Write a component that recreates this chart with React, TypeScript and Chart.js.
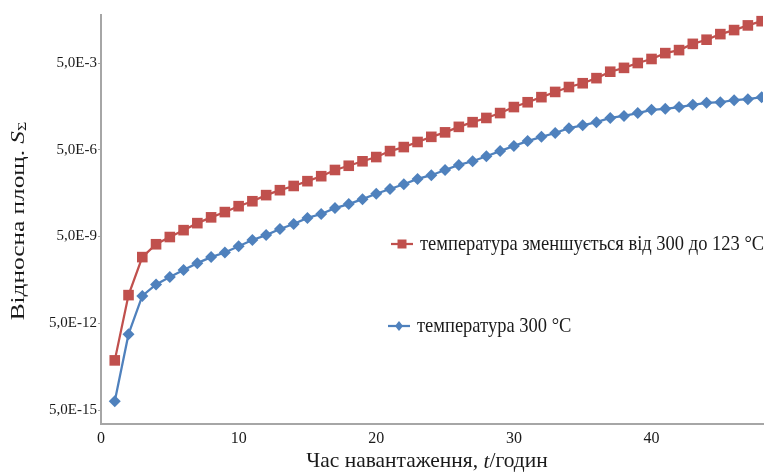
import React, { useEffect, useRef } from "react";
import { Chart, registerables } from "chart.js";

Chart.register(...registerables);

const hours = [
  1, 2, 3, 4, 5, 6, 7, 8, 9, 10, 11, 12, 13, 14, 15, 16, 17, 18, 19, 20, 21, 22, 23, 24,
  25, 26, 27, 28, 29, 30, 31, 32, 33, 34, 35, 36, 37, 38, 39, 40, 41, 42, 43, 44, 45, 46, 47, 48,
];

const decreasingTemp = [
  2.6e-13, 4.7e-11, 9.7e-10, 2.7e-9, 4.8e-9, 8.3e-9, 1.45e-8, 2.3e-8, 3.5e-8, 5.6e-8, 8.3e-8, 1.35e-7,
  2.0e-7, 2.8e-7, 4.1e-7, 6.1e-7, 1.0e-6, 1.4e-6, 2.0e-6, 2.8e-6, 4.5e-6, 6.2e-6, 9.3e-6, 1.4e-5,
  2.0e-5, 3.1e-5, 4.5e-5, 6.3e-5, 9.3e-5, 1.5e-4, 2.2e-4, 3.3e-4, 5.0e-4, 7.4e-4, 1.0e-3, 1.5e-3,
  2.5e-3, 3.4e-3, 5.0e-3, 6.9e-3, 1.1e-2, 1.4e-2, 2.3e-2, 3.2e-2, 5.0e-2, 6.9e-2, 0.1, 0.14,
];

const constTemp = [
  1.0e-14, 2.1e-12, 4.4e-11, 1.1e-10, 2.0e-10, 3.5e-10, 6.0e-10, 9.7e-10, 1.4e-9, 2.3e-9, 3.8e-9, 5.6e-9,
  9.1e-9, 1.35e-8, 2.2e-8, 3.0e-8, 4.8e-8, 6.6e-8, 9.8e-8, 1.5e-7, 2.2e-7, 3.2e-7, 4.9e-7, 6.6e-7,
  1.0e-6, 1.5e-6, 2.0e-6, 3.0e-6, 4.5e-6, 6.8e-6, 1.0e-5, 1.4e-5, 1.9e-5, 2.8e-5, 3.5e-5, 4.5e-5,
  6.3e-5, 7.4e-5, 9.3e-5, 1.2e-4, 1.3e-4, 1.5e-4, 1.8e-4, 2.1e-4, 2.2e-4, 2.6e-4, 2.8e-4, 3.3e-4,
];

const seriesNames = ["температура зменшується від 300 до 123 °C", "температура 300 °C"];

const xTickValues = [0, 10, 20, 30, 40];
const yTickValues = [5e-15, 5e-12, 5e-9, 5e-6, 5e-3];
const yTickLabels = ["5,0E-15", "5,0E-12", "5,0E-9", "5,0E-6", "5,0E-3"];

const RED = "#C0504D";
const BLUE = "#4F81BD";
const SERIF = "'Liberation Serif', 'Times New Roman', serif";
const TEXT = "#1a1a1a";
const AXIS = "#a6a6a6";

function drawParts(
  ctx: CanvasRenderingContext2D,
  parts: [string, string, number, number][],
  cx: number,
  cy: number,
  rot: number,
  stretchAlong: number,
  stretchAcross: number
) {
  ctx.save();
  ctx.translate(cx, cy);
  ctx.rotate(rot);
  ctx.scale(stretchAlong, stretchAcross);
  let total = 0;
  const ws = parts.map(([t, s, f]) => {
    ctx.font = `${s} ${f}px ${SERIF}`;
    const w = ctx.measureText(t).width;
    total += w;
    return w;
  });
  let p = -total / 2;
  ctx.textAlign = "left";
  ctx.textBaseline = "middle";
  parts.forEach(([t, s, f, dy], i) => {
    ctx.font = `${s} ${f}px ${SERIF}`;
    ctx.fillText(t, p, dy);
    p += ws[i];
  });
  ctx.restore();
}

const decorPlugin = {
  id: "decor",
  afterDraw(chart: any) {
    const ctx: CanvasRenderingContext2D = chart.ctx;
    ctx.save();
    ctx.fillStyle = TEXT;

    // X axis title
    drawParts(
      ctx,
      [
        ["Час навантаження, ", "normal", 19, 0],
        ["t", "italic", 19, 0],
        ["/годин", "normal", 19, 0],
      ],
      427,
      462,
      0,
      1.13,
      1.1
    );

    // Y axis title (rotated)
    drawParts(
      ctx,
      [
        ["Відносна площ. ", "normal", 19, 0],
        ["S", "italic", 19, 0],
        ["Σ", "normal", 12, 4],
      ],
      19,
      221,
      -Math.PI / 2,
      1.33,
      1.0
    );

    // Legend
    const items = [
      { name: seriesNames[0], color: RED, y: 244, x0: 391, style: "rect" },
      { name: seriesNames[1], color: BLUE, y: 326, x0: 388, style: "rectRot" },
    ];
    items.forEach((it) => {
      ctx.strokeStyle = it.color;
      ctx.lineWidth = 2.25;
      ctx.beginPath();
      ctx.moveTo(it.x0, it.y);
      ctx.lineTo(it.x0 + 22, it.y);
      ctx.stroke();
      ctx.fillStyle = it.color;
      const cx = it.x0 + 11;
      ctx.beginPath();
      if (it.style === "rect") {
        ctx.rect(cx - 4.5, it.y - 4.5, 9, 9);
      } else {
        ctx.moveTo(cx, it.y - 5);
        ctx.lineTo(cx + 4, it.y);
        ctx.lineTo(cx, it.y + 5);
        ctx.lineTo(cx - 4, it.y);
        ctx.closePath();
      }
      ctx.fill();
      ctx.fillStyle = TEXT;
      ctx.save();
      ctx.translate(it.x0 + 29, it.y + 1);
      ctx.scale(1, 1.12);
      ctx.font = `18.5px ${SERIF}`;
      ctx.textAlign = "left";
      ctx.textBaseline = "middle";
      ctx.fillText(it.name, 0, 0);
      ctx.restore();
    });

    ctx.restore();
  },
};

export default function App() {
  const ref = useRef<HTMLCanvasElement | null>(null);

  useEffect(() => {
    if (!ref.current) return;
    const chart = new Chart(ref.current, {
      type: "line",
      data: {
        datasets: [
          {
            label: seriesNames[0],
            data: hours.map((h, i) => ({ x: h, y: decreasingTemp[i] })),
            borderColor: RED,
            backgroundColor: RED,
            borderWidth: 2.25,
            pointStyle: "rect",
            pointRadius: 7.5,
            pointBorderWidth: 0,
            pointBackgroundColor: RED,
            tension: 0,
          },
          {
            label: seriesNames[1],
            data: hours.map((h, i) => ({ x: h, y: constTemp[i] })),
            borderColor: BLUE,
            backgroundColor: BLUE,
            borderWidth: 2.25,
            pointStyle: "rectRot",
            pointRadius: 6,
            pointBorderWidth: 0,
            pointBackgroundColor: BLUE,
            tension: 0,
          },
        ],
      },
      options: {
        animation: false,
        responsive: false,
        maintainAspectRatio: false,
        layout: { padding: { top: 15, right: 11, left: 0, bottom: 0 } },
        plugins: {
          legend: { display: false },
          tooltip: { enabled: false },
          title: { display: false },
        },
        scales: {
          x: {
            type: "linear",
            min: 0,
            max: 48.1,
            afterBuildTicks: (scale: any) => {
              scale.ticks = xTickValues.map((v) => ({ value: v }));
            },
            afterFit: (scale: any) => {
              scale.height = 49;
            },
            grid: {
              display: true,
              drawOnChartArea: false,
              drawTicks: false,
              color: AXIS,
            },
            border: { display: true, color: AXIS, width: 2 },
            ticks: {
              color: TEXT,
              font: { family: SERIF, size: 16 },
              padding: 5,
              maxRotation: 0,
              callback: (v: any) => String(v),
            },
          },
          y: {
            type: "logarithmic",
            min: 1.64e-15,
            max: 0.229,
            afterBuildTicks: (scale: any) => {
              scale.ticks = yTickValues.map((v) => ({ value: v }));
            },
            afterFit: (scale: any) => {
              scale.width = 101;
            },
            grid: {
              display: true,
              drawOnChartArea: false,
              drawTicks: true,
              tickLength: 3,
              color: AXIS,
            },
            border: { display: true, color: AXIS, width: 2 },
            ticks: {
              color: TEXT,
              font: { family: SERIF, size: 15 },
              padding: 1,
              callback: (v: any) => {
                const idx = yTickValues.findIndex((t) => Math.abs(t - v) / t < 1e-6);
                return idx >= 0 ? yTickLabels[idx] : "";
              },
            },
          },
        },
      },
      plugins: [decorPlugin],
    });
    return () => chart.destroy();
  }, []);

  return (
    <div style={{ position: "fixed", left: 0, top: 0, width: 774, height: 473, background: "#fff" }}>
      <canvas ref={ref} width={774} height={473} style={{ width: 774, height: 473 }} />
    </div>
  );
}
